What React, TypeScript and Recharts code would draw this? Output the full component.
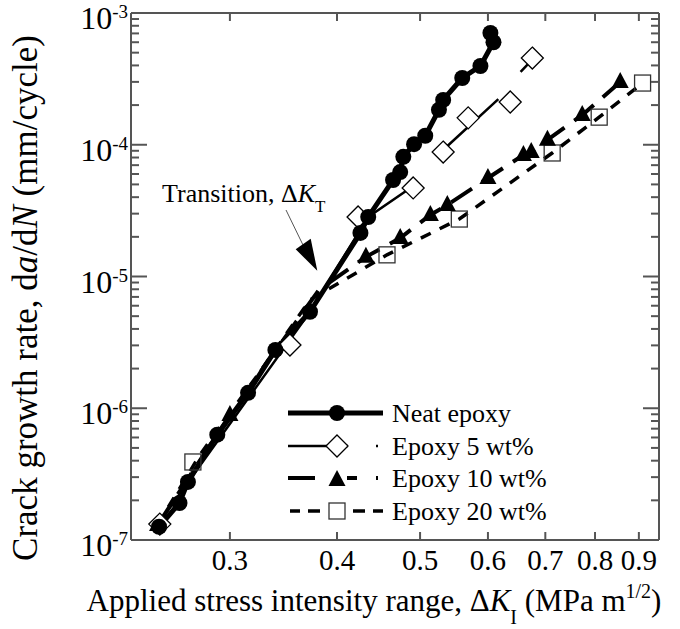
import { ComposedChart, Line, Scatter, XAxis, YAxis } from "recharts";

document.body.style.margin = "0";

const FONT = '"Liberation Serif", "Times New Roman", Times, serif';
const FRAME = "#555";
// plot box in page pixels (chart is drawn at the page origin)
const BOX = { left: 131, right: 659, top: 13, bottom: 540 };

// ΔK (MPa m^1/2) -> da/dN (mm/cycle)
const neatK = [0.248, 0.262, 0.268, 0.29, 0.315, 0.339, 0.372, 0.426, 0.435, 0.465, 0.474, 0.478, 0.492, 0.507, 0.526, 0.532, 0.56, 0.588, 0.609, 0.604];
const neatRate = [1.26e-7, 1.91e-7, 2.76e-7, 6.3e-7, 1.31e-6, 2.77e-6, 5.4e-6, 2.14e-5, 2.83e-5, 5.4e-5, 6.2e-5, 8.1e-5, 1.01e-4, 1.17e-4, 1.84e-4, 2.19e-4, 3.21e-4, 3.96e-4, 6.0e-4, 7.05e-4];

const k5 = [0.2485, 0.3525, 0.4233, 0.4908, 0.532, 0.569, 0.637, 0.676];
const rate5 = [1.32e-7, 3.02e-6, 2.83e-5, 4.7e-5, 8.8e-5, 1.6e-4, 2.11e-4, 4.55e-4];
// fitted line for 5 wt% (null = break in the line)
const fit5K = [0.247, 0.372, 0.435, 0.491, 0.51, 0.535, 0.617, 0.635, 0.655, 0.672];
const fit5Rate = [1.3e-7, 5.4e-6, 2.83e-5, 4.86e-5, null, 9.45e-5, 2.22e-4, null, 3.57e-4, 4.25e-4];

const k10 = [0.247, 0.3, 0.4323, 0.474, 0.514, 0.538, 0.6, 0.66, 0.674, 0.704, 0.773, 0.856];
const rate10 = [1.3e-7, 8.9e-7, 1.41e-5, 1.96e-5, 2.93e-5, 3.49e-5, 5.59e-5, 8.36e-5, 8.81e-5, 1.09e-4, 1.68e-4, 2.99e-4];
const fit10K = [0.247, 0.3, 0.381, 0.4323, 0.474, 0.514, 0.538, 0.6, 0.66, 0.674, 0.704, 0.773, 0.856];
const fit10Rate = [1.3e-7, 8.9e-7, 7.9e-6, 1.41e-5, 1.96e-5, 2.93e-5, 3.49e-5, 5.59e-5, 8.36e-5, 8.81e-5, 1.09e-4, 1.68e-4, 2.99e-4];

const k20 = [0.2716, 0.4575, 0.5556, 0.713, 0.809, 0.909];
const rate20 = [3.91e-7, 1.46e-5, 2.73e-5, 8.66e-5, 1.62e-4, 2.94e-4];
const fit20K = [0.247, 0.2767, 0.325, 0.372, 0.4575, 0.5556, 0.713, 0.809, 0.909];
const fit20Rate = [1.3e-7, 4.42e-7, 1.88e-6, 6.64e-6, 1.46e-5, 2.73e-5, 8.66e-5, 1.62e-4, 2.94e-4];

const xTicks = [0.3, 0.4, 0.5, 0.6, 0.7, 0.8, 0.9];
const yDecades = [1e-7, 1e-6, 1e-5, 1e-4, 1e-3];
const yMinorSteps = [1, 2, 3, 4, 5, 6, 7, 8, 9];
const yTicks = yDecades.flatMap((d, i) => (i < yDecades.length - 1 ? yMinorSteps.map((m) => m * d) : [d]));

const legendNames = ["Neat epoxy", "Epoxy 5 wt%", "Epoxy 10 wt%", "Epoxy 20 wt%"];

const zip = (k: number[], r: (number | null)[]) => k.map((x, i) => ({ x, y: r[i] }));

// markers
const Dot = ({ cx, cy }: any) => <circle cx={cx} cy={cy} r={8} fill="#000" />;
const Diamond = ({ cx, cy }: any) => (
  <path d={`M${cx} ${cy - 11}L${cx + 11} ${cy}L${cx} ${cy + 11}L${cx - 11} ${cy}Z`} fill="#fff" stroke="#000" strokeWidth={1.3} />
);
const Tri = ({ cx, cy }: any) => <path d={`M${cx} ${cy - 10}L${cx + 8.5} ${cy + 6}L${cx - 8.5} ${cy + 6}Z`} fill="#000" />;
const Square = ({ cx, cy }: any) => <rect x={cx - 8} y={cy - 8} width={16} height={16} fill="none" stroke="#333" strokeWidth={1.3} />;

function XTick(props: any) {
  const { x, payload } = props;
  return (
    <g>
      <line x1={x} x2={x} y1={BOX.bottom} y2={BOX.bottom - 8} stroke={FRAME} strokeWidth={2} />
      <line x1={x} x2={x} y1={BOX.top} y2={BOX.top + 8} stroke={FRAME} strokeWidth={2} />
      <text x={x} y={570} textAnchor="middle" fontFamily={FONT} fontSize={29} fill="#000">{String(payload.value)}</text>
    </g>
  );
}

function YTick(props: any) {
  const { y, payload } = props;
  const lg = Math.log10(payload.value);
  const exp = Math.round(lg);
  const major = Math.abs(lg - exp) < 1e-6;
  const len = major ? 16 : 8;
  return (
    <g>
      <line x1={BOX.left} x2={BOX.left + len} y1={y} y2={y} stroke={FRAME} strokeWidth={2} />
      <line x1={BOX.right - len} x2={BOX.right} y1={y} y2={y} stroke={FRAME} strokeWidth={2} />
      {major && (
        <text x={128} y={y + 16} textAnchor="end" fontFamily={FONT} fontSize={32} fill="#000">
          10<tspan dy={-11} fontSize={19}>{String(exp)}</tspan>
        </text>
      )}
    </g>
  );
}

function Legend() {
  const rows = [413, 446, 478, 511];
  const x0 = 288, x1 = 383, mx = 337;
  return (
    <g fontFamily={FONT} fontSize={26}>
      <line x1={x0} x2={x1} y1={rows[0]} y2={rows[0]} stroke="#000" strokeWidth={5} />
      <Dot cx={mx} cy={rows[0]} />
      <line x1={x0} x2={x1} y1={rows[1]} y2={rows[1]} stroke="#000" strokeWidth={2.5} strokeDasharray="60 28 2 20" />
      <Diamond cx={mx} cy={rows[1]} />
      <line x1={x0} x2={x1} y1={rows[2]} y2={rows[2]} stroke="#000" strokeWidth={4} strokeDasharray="27 32 10 19 2 20" />
      <Tri cx={mx} cy={rows[2] + 2} />
      <line x1={290} x2={x1} y1={rows[3]} y2={rows[3]} stroke="#000" strokeWidth={3.5} strokeDasharray="10 8 12 33 12 8 10" />
      <Square cx={mx} cy={rows[3]} />
      {legendNames.map((n, i) => (
        <text key={n} x={392} y={rows[i] + 9} fill="#000">{n}</text>
      ))}
    </g>
  );
}

export default function App() {
  return (
    <div style={{ position: "relative", width: 680, height: 629, background: "#fff" }}>
      <ComposedChart width={680} height={629} margin={{ top: 13, right: 21, bottom: 0, left: 0 }}>
        <XAxis xAxisId="k" dataKey="x" type="number" scale="log" domain={[0.23, 0.95]} allowDataOverflow
          ticks={xTicks} interval={0} tick={(p: any) => <XTick {...p} />} tickLine={false}
          axisLine={{ stroke: FRAME, strokeWidth: 2 }} height={89} />
        <YAxis yAxisId="r" dataKey="y" type="number" scale="log" domain={[1e-7, 1e-3]} allowDataOverflow
          ticks={yTicks} interval={0} tick={(p: any) => <YTick {...p} />} tickLine={false}
          axisLine={{ stroke: FRAME, strokeWidth: 2 }} width={131} />

        <Line xAxisId="k" yAxisId="r" data={zip(fit20K, fit20Rate)} dataKey="y" stroke="#000" strokeWidth={3.5}
          strokeDasharray="11 10" dot={false} activeDot={false} isAnimationActive={false} />
        <Line xAxisId="k" yAxisId="r" data={zip(fit10K, fit10Rate)} dataKey="y" stroke="#000" strokeWidth={4}
          strokeDasharray="25 12" dot={false} activeDot={false} isAnimationActive={false} />
        <Line xAxisId="k" yAxisId="r" data={zip(fit5K, fit5Rate)} dataKey="y" stroke="#000" strokeWidth={2.5}
          dot={false} activeDot={false} connectNulls={false} isAnimationActive={false} />

        <Scatter xAxisId="k" yAxisId="r" data={zip(k20, rate20)} dataKey="y" shape={(p: any) => <Square {...p} />} isAnimationActive={false} />
        <Scatter xAxisId="k" yAxisId="r" data={zip(k10, rate10)} dataKey="y" shape={(p: any) => <Tri {...p} />} isAnimationActive={false} />
        <Scatter xAxisId="k" yAxisId="r" data={zip(k5, rate5)} dataKey="y" shape={(p: any) => <Diamond {...p} />} isAnimationActive={false} />

        <Line xAxisId="k" yAxisId="r" data={zip(neatK, neatRate)} dataKey="y" stroke="#000" strokeWidth={5}
          dot={false} activeDot={false} isAnimationActive={false} />
        <Scatter xAxisId="k" yAxisId="r" data={zip(neatK, neatRate)} dataKey="y" shape={(p: any) => <Dot {...p} />} isAnimationActive={false} />
      </ComposedChart>

      <svg width={680} height={629} style={{ position: "absolute", left: 0, top: 0, pointerEvents: "none" }}>
        <line x1={BOX.left} x2={BOX.right} y1={BOX.top} y2={BOX.top} stroke={FRAME} strokeWidth={2} />
        <line x1={BOX.right} x2={BOX.right} y1={BOX.top} y2={BOX.bottom} stroke={FRAME} strokeWidth={2} />

        <text x={162} y={202} fontFamily={FONT} fontSize={26} fill="#000">
          Transition, Δ<tspan fontStyle="italic">K</tspan><tspan dy={10} fontSize={17}>T</tspan>
        </text>
        <line x1={286} y1={210} x2={303} y2={245} stroke="#555" strokeWidth={1} />
        <polygon points="295.7,249.3 310.7,238.7 317.3,270.7" fill="#000" />

        <Legend />

        <text x={374} y={611} textAnchor="middle" fontFamily={FONT} fontSize={31} fill="#000">
          Applied stress intensity range, Δ<tspan fontStyle="italic">K</tspan>
          <tspan dy={13} fontSize={20}>I</tspan>
          <tspan dy={-13}> (MPa m</tspan>
          <tspan dy={-13} fontSize={20}>1/2</tspan>
          <tspan dy={13}>)</tspan>
        </text>
        <text x={37} y={298} transform="rotate(-90 37 298)" textAnchor="middle" fontFamily={FONT} fontSize={35} fill="#000">
          Crack growth rate, d<tspan fontStyle="italic">a</tspan>/d<tspan fontStyle="italic">N</tspan> (mm/cycle)
        </text>
      </svg>
    </div>
  );
}
